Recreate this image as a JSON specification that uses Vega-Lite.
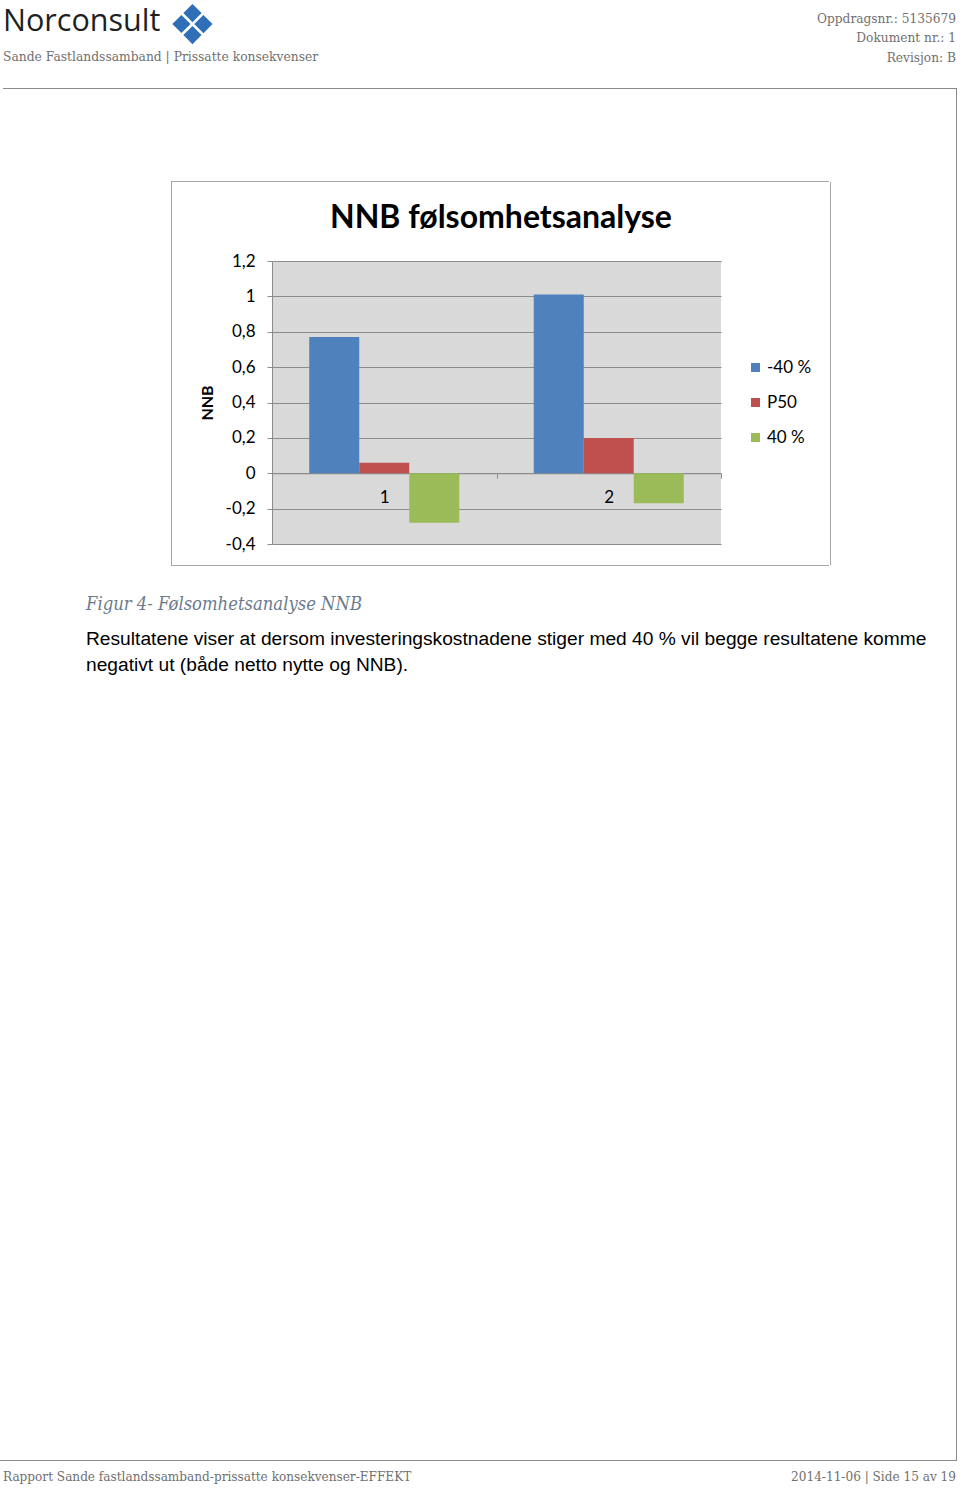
{
  "$schema": "https://vega.github.io/schema/vega-lite/v6.json",
  "background": "white",
  "padding": 0,
  "datasets": {
    "empty": [],
    "nnb": [
      {"cat": "1", "series": "-40 %", "value": 0.77},
      {"cat": "1", "series": "P50", "value": 0.06},
      {"cat": "1", "series": "40 %", "value": -0.28},
      {"cat": "2", "series": "-40 %", "value": 1.01},
      {"cat": "2", "series": "P50", "value": 0.2},
      {"cat": "2", "series": "40 %", "value": -0.17}
    ]
  },
  "config": {"view": {"stroke": null}, "concat": {"spacing": 0}},
  "bounds": "full",
  "spacing": 0,
  "vconcat": [
    {
      "bounds": "flush", "spacing": 0,
      "hconcat": [
        {"width": 165, "height": 87, "data": {"name": "empty"}, "mark": "point",
         "title": {"text": "Norconsult", "subtitle": "Sande Fastlandssamband | Prissatte konsekvenser",
                   "anchor": "start", "frame": "group", "orient": "top", "offset": -62.3, "dx": 3,
                   "font": "Open Sans", "fontSize": 30.5, "fontWeight": "normal", "color": "#1f1f1f",
                   "subtitleFont": "DejaVu Serif", "subtitleFontSize": 12.3, "subtitleColor": "#707070", "subtitlePadding": 13.5}},
        {"width": 55, "height": 87, "data": {"name": "empty"}, "mark": "point",
         "title": {"text": "❖", "anchor": "middle", "frame": "group", "orient": "top", "offset": -55,
                   "font": "DejaVu Sans", "fontSize": 55, "fontWeight": "normal", "color": "#2f6fb8"}},
        {"width": 736, "height": 87, "data": {"name": "empty"}, "mark": "point",
         "title": {"text": ["Oppdragsnr.: 5135679", "Dokument nr.: 1", "Revisjon: B"],
                   "anchor": "end", "frame": "group", "orient": "top", "offset": -62.7,
                   "font": "DejaVu Serif", "fontSize": 12.2, "fontWeight": "normal", "color": "#707070", "lineHeight": 19.5}}
      ]
    },
    {
      "bounds": "flush", "spacing": 0,
      "hconcat": [
        {"width": 3, "height": 1, "data": {"name": "empty"}, "mark": "point"},
        {"width": 954, "height": 1, "data": {"name": "empty"}, "mark": "point", "view": {"fill": "#8a8a8a", "stroke": null}}
      ]
    },
    {
      "bounds": "full", "spacing": 0,
      "hconcat": [
        {
          "bounds": "full", "spacing": 0,
          "vconcat": [
            {"width": 956, "height": 92, "data": {"name": "empty"}, "mark": "point"},
            {
              "bounds": "flush", "spacing": 0,
              "hconcat": [
                {"width": 171, "height": 1, "data": {"name": "empty"}, "mark": "point"},
                {"width": 658, "height": 1, "data": {"name": "empty"}, "mark": "point", "view": {"fill": "#a6a6a6", "stroke": null}}
              ]
            },
            {
              "bounds": "full", "spacing": 0,
              "hconcat": [
                {"width": 171, "height": 383, "data": {"name": "empty"}, "mark": "point"},
                {"width": 1, "height": 383, "data": {"name": "empty"}, "mark": "point", "view": {"fill": "#a6a6a6", "stroke": null}},
                {"width": 27, "height": 383, "data": {"name": "empty"}, "mark": "point"},
                {
                  "bounds": "flush", "spacing": 0,
                  "vconcat": [
                    {"width": 449, "height": 79, "data": {"name": "empty"}, "mark": "point"},
                    {
                      "width": 449, "height": 283,
                      "data": {"name": "nnb"},
                      "view": {"fill": "#d9d9d9", "stroke": null},
                      "title": {"text": "NNB følsomhetsanalyse", "anchor": "middle", "frame": "group", "dx": 4.5,
                                "offset": 16.9, "font": "Lato", "fontSize": 32, "fontWeight": "bold", "color": "#000000"},
                      "mark": {"type": "bar"},
                      "encoding": {
                        "x": {"field": "cat", "type": "nominal", "scale": {"paddingInner": 0, "paddingOuter": 0},
                              "axis": {"title": null, "labelAngle": 0, "offset": -70.75, "tickBand": "extent", "tickSize": 5,
                                       "tickColor": "#8c8c8c", "domainColor": "#8c8c8c", "grid": false,
                                       "labelFont": "Lato", "labelFontSize": 17, "labelColor": "#000000", "labelPadding": 11.7}},
                        "xOffset": {"field": "series", "type": "nominal", "sort": ["-40 %", "P50", "40 %"],
                                    "scale": {"paddingInner": 0, "paddingOuter": 0.745}},
                        "y": {"field": "value", "type": "quantitative", "stack": null,
                              "scale": {"domain": [-0.4, 1.2], "nice": false, "zero": false},
                              "axis": {"values": [-0.4, -0.2, 0, 0.2, 0.4, 0.6, 0.8, 1, 1.2],
                                       "labelExpr": "replace('' + datum.value, '.', ',')",
                                       "title": "NNB", "titleFont": "Lato", "titleFontSize": 16, "titleFontWeight": "bold",
                                       "titleColor": "#000000", "titlePadding": 10,
                                       "labelFont": "Lato", "labelFontSize": 17, "labelColor": "#000000", "labelPadding": 12,
                                       "labelOverlap": false, "tickSize": 5, "tickColor": "#8c8c8c", "domainColor": "#8c8c8c",
                                       "grid": true, "gridColor": "#8c8c8c"}},
                        "color": {"field": "series", "type": "nominal", "sort": ["-40 %", "P50", "40 %"],
                                  "scale": {"domain": ["-40 %", "P50", "40 %"], "range": ["#4f81bd", "#c0504d", "#9bbb59"]},
                                  "legend": {"title": null, "orient": "none", "legendX": 747, "legendY": 358,
                                             "symbolType": "square", "symbolSize": 81, "symbolStrokeWidth": 0,
                                             "labelFont": "Lato", "labelFontSize": 17, "labelColor": "#000000",
                                             "rowPadding": 17, "labelOffset": 3, "padding": 0}}
                      }
                    },
                    {"width": 449, "height": 21, "data": {"name": "empty"}, "mark": "point"}
                  ]
                },
                {"width": 108, "height": 383, "data": {"name": "empty"}, "mark": "point"},
                {"width": 1, "height": 383, "data": {"name": "empty"}, "mark": "point", "view": {"fill": "#a6a6a6", "stroke": null}}
              ]
            },
            {
              "bounds": "flush", "spacing": 0,
              "hconcat": [
                {"width": 171, "height": 1, "data": {"name": "empty"}, "mark": "point"},
                {"width": 658, "height": 1, "data": {"name": "empty"}, "mark": "point", "view": {"fill": "#a6a6a6", "stroke": null}}
              ]
            },
            {"width": 956, "height": 894, "data": {"name": "empty"}, "mark": "point",
             "title": {"text": "Figur 4- Følsomhetsanalyse NNB",
                       "subtitle": ["Resultatene viser at dersom investeringskostnadene stiger med 40 % vil begge resultatene komme",
                                    "negativt ut (både netto nytte og NNB)."],
                       "anchor": "start", "frame": "group", "orient": "top", "offset": -110.2, "dx": 86,
                       "font": "DejaVu Serif Condensed", "fontStyle": "italic", "fontWeight": "normal", "fontSize": 18.3, "color": "#6b7b8c",
                       "subtitleFont": "Liberation Sans", "subtitleFontSize": 19.2, "subtitleColor": "#000000",
                       "subtitleLineHeight": 26, "subtitlePadding": 16.2}}
          ]
        },
        {"width": 1, "height": 1371, "data": {"name": "empty"}, "mark": "point", "view": {"fill": "#8a8a8a", "stroke": null}}
      ]
    },
    {"width": 957, "height": 1, "data": {"name": "empty"}, "mark": "point", "view": {"fill": "#8a8a8a", "stroke": null}},
    {
      "bounds": "flush", "spacing": 0,
      "hconcat": [
        {"width": 478, "height": 30, "data": {"name": "empty"}, "mark": "point",
         "title": {"text": "Rapport Sande fastlandssamband-prissatte konsekvenser-EFFEKT", "anchor": "start", "frame": "group",
                   "orient": "top", "offset": -22.1, "dx": 3, "font": "DejaVu Serif", "fontSize": 12.1,
                   "fontWeight": "normal", "color": "#707070"}},
        {"width": 478, "height": 30, "data": {"name": "empty"}, "mark": "point",
         "title": {"text": "2014-11-06 | Side 15 av 19", "anchor": "end", "frame": "group",
                   "orient": "top", "offset": -22.1, "font": "DejaVu Serif", "fontSize": 12.1,
                   "fontWeight": "normal", "color": "#707070"}}
      ]
    }
  ]
}
